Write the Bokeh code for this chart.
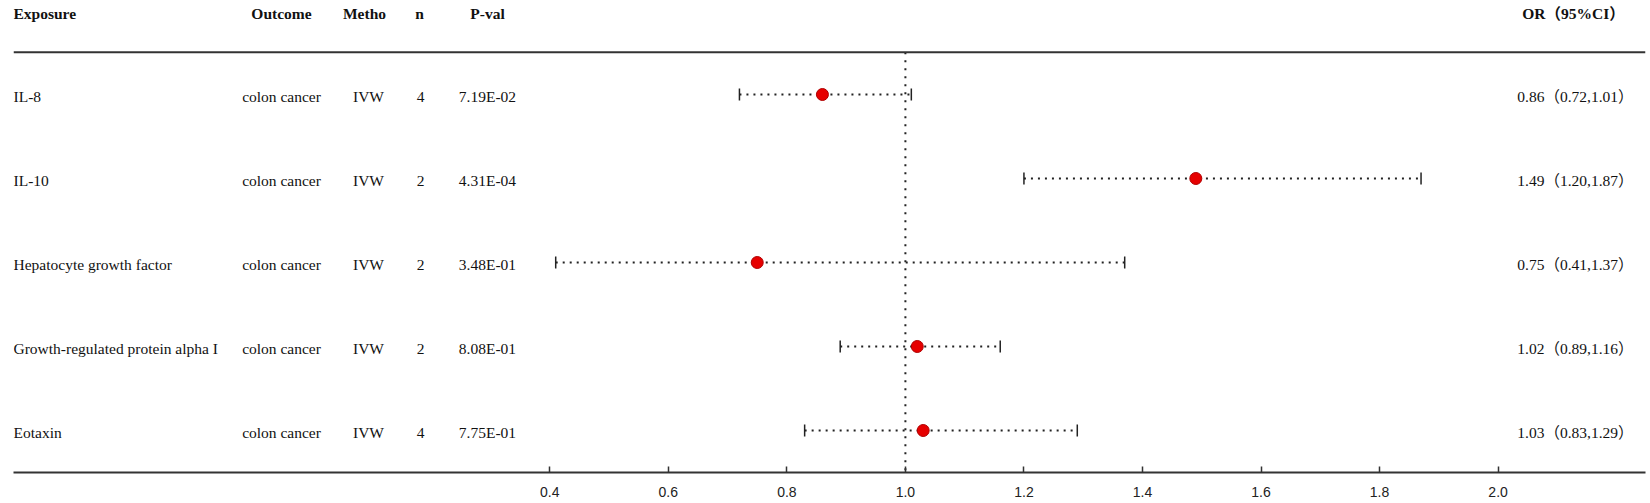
from bokeh.plotting import figure
from bokeh.models import Range1d, ColumnDataSource, LabelSet, Span, FixedTicker, PrintfTickFormatter
from bokeh.core.properties import value
from bokeh.embed import file_html
from bokeh.resources import INLINE

# ---- data ----
exposure = ["IL-8", "IL-10", "Hepatocyte growth factor",
            "Growth-regulated protein alpha I", "Eotaxin"]
outcome = ["colon cancer", "colon cancer", "colon cancer", "colon cancer", "colon cancer"]
method = ["IVW", "IVW", "IVW", "IVW", "IVW"]
n_snp = [4, 2, 2, 2, 4]
pval = ["7.19E-02", "4.31E-04", "3.48E-01", "8.08E-01", "7.75E-01"]
or_val = [0.86, 1.49, 0.75, 1.02, 1.03]
ci_lo = [0.72, 1.20, 0.41, 0.89, 0.83]
ci_hi = [1.01, 1.87, 1.37, 1.16, 1.29]
x_ticks = [0.4, 0.6, 0.8, 1.0, 1.2, 1.4, 1.6, 1.8, 2.0]
headers = ["Exposure", "Outcome", "Metho", "n", "P-val", "OR\uff0895%CI\uff09"]

# ---- layout constants (pixels) ----
W, H = 1650, 503
LEFT, RIGHT = 13, 1645
FRAME_H = 472.0
ROW0, ROW_STEP = 94.0, 84.0
PX_PER_UNIT = 592.7
X_ONE_PX = 904.9   # pixel of OR = 1.0


def y_of(px):
    return (px - ROW0) / ROW_STEP


def x_of(px):
    return 1 + (px - X_ONE_PX) / PX_PER_UNIT


rows = list(range(len(exposure)))
or_text = [f"{o:.2f}\uff08{l:.2f},{h:.2f}\uff09" for o, l, h in zip(or_val, ci_lo, ci_hi)]

src = ColumnDataSource(dict(
    y=rows, exposure=exposure, outcome=outcome, method=method,
    n=[str(v) for v in n_snp], pval=pval, ortext=or_text,
    est=or_val, lo=ci_lo, hi=ci_hi,
    cap0=[r - 0.07 for r in rows], cap1=[r + 0.07 for r in rows],
))

p = figure(width=W, height=H, output_backend="svg", toolbar_location=None,
           x_range=Range1d(x_of(LEFT), x_of(RIGHT)),
           y_range=Range1d(y_of(FRAME_H), y_of(0.0)),
           y_axis_location=None, min_border_left=LEFT, min_border_right=W - RIGHT,
           min_border_top=0, min_border_bottom=int(H - FRAME_H))
p.outline_line_color = None
p.xgrid.visible = False
p.ygrid.visible = False
p.background_fill_color = "white"
p.border_fill_color = "white"

# reference line at OR = 1
y_rule = y_of(51.7)
p.segment(x0=[1.0], y0=[y_rule], x1=[1.0], y1=[y_of(FRAME_H)], line_color="#222222",
          line_width=2, line_dash="2 6")

# top rule
p.add_layout(Span(location=y_rule, dimension="width", line_color="#333333", line_width=2))

# CI lines
p.segment(x0="lo", y0="y", x1="hi", y1="y", source=src, line_color="#222222",
          line_width=1.8, line_dash="2 5")
p.segment(x0="lo", y0="cap0", x1="lo", y1="cap1", source=src, line_color="#222222", line_width=1.5)
p.segment(x0="hi", y0="cap0", x1="hi", y1="cap1", source=src, line_color="#222222", line_width=1.5)
p.scatter(x="est", y="y", source=src, size=12, fill_color="#E60000", line_color="#B00000",
          line_width=1)

# x axis
ax = p.xaxis[0]
ax.ticker = FixedTicker(ticks=x_ticks)
ax.formatter = PrintfTickFormatter(format="%.1f")
ax.axis_line_width = 2
ax.axis_line_color = "#333333"
ax.major_tick_in = 6
ax.major_tick_out = 0
ax.major_tick_line_width = 1.5
ax.major_tick_line_color = "#333333"
ax.minor_tick_line_color = None
ax.major_label_standoff = 14
ax.major_label_text_font = "Liberation Sans"
ax.major_label_text_font_size = "14px"
ax.major_label_text_color = "#222222"

FONT = "'Liberation Serif', 'Noto Sans CJK SC', serif"
FS = "15.5px"

cols = [("exposure", 13, "left"), ("outcome", 281, "center"), ("method", 368, "center"),
        ("n", 420, "center"), ("pval", 487, "center"), ("ortext", 1575, "center")]
for field, xp, align in cols:
    p.add_layout(LabelSet(x=x_of(xp), y="y", text=field,
                          source=src, text_font=value(FONT), text_font_size=FS,
                          text_align=align, text_baseline="middle", text_color="#111111",
                          y_offset=-2))

# header row
hx = [13, 281, 364, 419, 487, 1573]
y_head = y_of(13.0)
p.add_layout(LabelSet(x="x", y="y", text="t",
                      source=ColumnDataSource(dict(x=[x_of(hx[0])], y=[y_head], t=headers[:1])),
                      text_font=value(FONT), text_font_size=FS, text_font_style="bold",
                      text_align="left", text_baseline="middle", text_color="#111111"))
p.add_layout(LabelSet(x="x", y="y", text="t",
                      source=ColumnDataSource(dict(x=[x_of(v) for v in hx[1:]],
                                                   y=[y_head] * (len(headers) - 1),
                                                   t=headers[1:])),
                      text_font=value(FONT), text_font_size=FS, text_font_style="bold",
                      text_align="center", text_baseline="middle", text_color="#111111"))

open("out.html", "w").write(file_html(p, INLINE))
